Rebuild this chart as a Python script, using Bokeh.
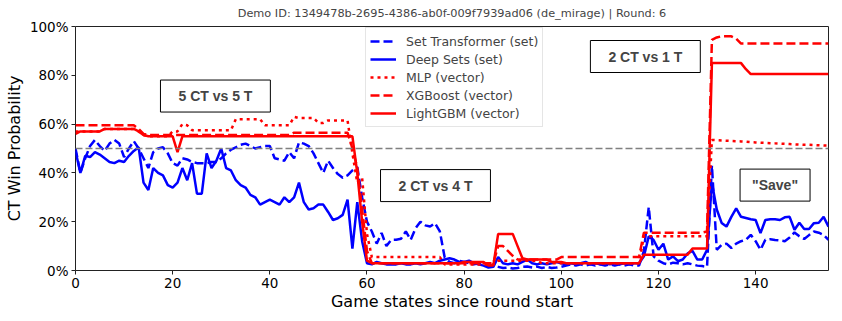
from bokeh.plotting import figure
from bokeh.models import (ColumnDataSource, Range1d, Span, Label, Legend, LegendItem,
                          PrintfTickFormatter, FixedTicker)
from bokeh.embed import file_html
from bokeh.resources import INLINE
from bokeh.core.properties import value

title_text = "Demo ID: 1349478b-2695-4386-ab0f-009f7939ad06 (de_mirage) | Round: 6"
x_label = "Game states since round start"
y_label = "CT Win Probability"
x_ticks = [0, 20, 40, 60, 80, 100, 120, 140]
y_ticks = [0, 20, 40, 60, 80, 100]

series_names = ["Set Transformer (set)", "Deep Sets (set)", "MLP (vector)",
                "XGBoost (vector)", "LightGBM (vector)"]

# Set Transformer (set) - win probability in %, states 0..155
set_transformer = [
    50, 40, 46, 51, 53.5, 51, 49, 52, 53.5, 52,
    46.5, 50, 53, 50, 46, 42, 48.5, 50, 50.5, 48,
    44, 43, 46, 45.5, 44.5, 44, 44, 44, 44.5, 44.5,
    46, 48, 49.5, 50.5, 51.5, 52, 51, 50, 50.5, 51,
    51, 46, 45.5, 45, 48.5, 46, 52.5, 52, 51, 48,
    44, 40, 45, 42, 39.5, 38, 39, 41, 42.4, 30,
    20, 16, 11, 15.4, 10, 12.6, 12.6, 13, 16, 12.6,
    17.3, 20, 18.5, 18, 19.4, 16, 5.3, 3.5, 3, 4,
    3.5, 3, 2.5, 3, 2.5, 2, 2, 1.5, 1, 1.2,
    0.8, 1, 1.5, 1.6, 1.2, 1.6, 1, 1.5, 1, 1.2,
    1.5, 2, 2.5, 2, 2.5, 2, 2.5, 2, 2.5, 2,
    2.5, 2, 2.5, 2, 2.5, 2, 2, 8, 26, 5.8,
    4, 3, 2.5, 3.2, 3, 2.5, 3, 2.5, 2, 1.8,
    1.5, 43, 8.5, 10.5, 11, 9.2, 11, 12, 12.6, 14.6,
    12, 8.5, 12.6, 12.8, 12.5, 12.3, 12, 13.5, 15.6, 14,
    12.9, 14.5, 16, 15.5, 14.6, 12.6,
]

# Deep Sets (set)
deep_sets = [
    49, 40, 47, 46.5, 48.5, 47.5, 46, 44.5, 44, 45,
    44.5, 47, 49, 50.5, 36, 33, 42, 40, 39, 35,
    34, 36, 42, 37, 44, 31.5, 31.5, 48, 42, 45,
    50, 42, 41, 37, 35, 34, 31, 30, 27, 28,
    29, 28, 27, 30, 28, 30, 36, 28, 25, 25.5,
    27, 27, 24, 20.7, 21.4, 22.8, 29, 9, 28, 12,
    3, 2.5, 3.5, 3, 2.5, 2.5, 2.5, 3, 2.5, 2.5,
    3, 2.5, 3, 3.5, 3, 4, 4.5, 5, 4.5, 3.5,
    3.5, 4, 3, 2.5, 2, 1.2, 1.5, 5.5, 3, 2.5,
    3, 2.5, 3.5, 4.5, 3, 2.5, 3, 2.5, 3, 3.5,
    3, 2.5, 3, 2.5, 3, 3.5, 2.5, 3, 2.5, 3,
    2.5, 3, 2.5, 3, 2.5, 3, 3, 5.8, 14, 12.5,
    8.5, 11, 4.5, 5.8, 3.8, 4.5, 7, 8, 4.5, 4.5,
    8.5, 36, 25, 19.5, 18, 22, 25.5, 22, 21.5, 21,
    20.7, 15.3, 20.7, 21, 21, 20.7, 21.8, 22, 16.7, 19.6,
    17, 17, 19.4, 19.6, 22, 18,
]

# MLP (vector)
mlp = [
    57, 57, 57, 57, 57, 57, 58, 58, 58, 58,
    58, 58, 58, 57, 55.5, 55, 55, 55, 55, 55,
    57, 57, 60, 59.5, 57.5, 57.5, 57.5, 57.5, 57.5, 57.5,
    57.5, 57.5, 57.5, 62, 62, 62, 62, 62, 62, 59.5,
    59.5, 59.5, 59.5, 59.5, 59.5, 63, 62.5, 62.5, 62.5, 62.5,
    60.5, 60.5, 61.5, 61.5, 61.5, 61.5, 61.5, 48, 36, 38,
    15, 5.5, 5.5, 5.5, 5.5, 5.5, 5.5, 5.5, 5.5, 5.5,
    5.5, 5.5, 5.5, 5.5, 5.5, 5.5, 2.5, 2.5, 2.5, 2.5,
    2.5, 2.5, 2.5, 2.5, 2.5, 2.5, 2.5, 4, 4, 4,
    4, 4, 4, 4, 4, 4, 3, 3, 3, 3,
    3, 3, 3, 3, 3, 3, 3, 3, 3, 3,
    3, 3, 3, 3, 3, 3, 3, 14, 14, 14,
    14, 14, 14, 14, 14, 14, 14, 14, 14, 14,
    14, 53.5, 53.4, 53.3, 53.2, 53.1, 53, 52.9, 52.8, 52.6,
    52.5, 52.4, 52.3, 52.2, 52.1, 52, 51.9, 51.8, 51.7, 51.6,
    51.5, 51.5, 51.4, 51.3, 51.2, 51.2,
]

# XGBoost (vector)
xgboost = [
    59.5, 59.5, 59.5, 59.5, 59.5, 59.5, 59.5, 59.5, 59.5, 59.5,
    59.5, 59.5, 59.5, 58, 56, 55.5, 55.5, 55.5, 55.5, 55.5,
    55.5, 55.5, 55.5, 55.5, 55.5, 55.5, 55.5, 55.5, 55.5, 55.5,
    55.5, 55.5, 55.5, 55.5, 55.5, 55.5, 55.5, 55.5, 55.5, 55.5,
    55.5, 55.5, 55.5, 55.5, 55.5, 56.5, 56.5, 56.5, 56.5, 56.5,
    56.5, 56.5, 56.5, 56.5, 56.5, 56.5, 56.5, 50, 42, 25,
    8, 3, 3, 3, 3, 3, 3, 3, 3, 3,
    3, 3, 3, 3, 3, 3, 3, 3, 3, 3,
    3, 3, 3, 3, 3, 3, 3, 10, 10, 8,
    6, 4.5, 4.5, 4.5, 4.5, 4.5, 4.5, 4.5, 4.5, 4.5,
    5.5, 5.5, 5.5, 5.5, 5.5, 5.5, 5.5, 5.5, 5.5, 5.5,
    5.5, 5.5, 5.5, 5.5, 5.5, 5.5, 5.5, 15.5, 15.5, 15.5,
    15.5, 15.5, 15.5, 15.5, 15.5, 15.5, 15.5, 15.5, 15.5, 15.5,
    16, 94.5, 95.5, 96, 96, 96, 95, 93, 93, 93,
    93, 93, 93, 93, 93, 93, 93, 93, 93, 93,
    93, 93, 93, 93, 93, 93,
]

# LightGBM (vector)
lightgbm = [
    56, 57, 57, 57, 57, 57, 58, 58, 58, 58,
    58, 58, 58, 57, 55.5, 55, 55, 55, 55, 55,
    55, 48.5, 55, 55, 55, 55, 55, 55, 55, 55,
    55, 55, 55, 55, 55, 55, 55, 55, 55, 55,
    55, 55, 55, 55, 55, 55, 55, 55, 55, 55,
    55, 55, 55, 55, 55, 55, 55, 55, 40, 20,
    4, 3, 3, 3, 3, 3, 3, 3, 3, 3,
    3, 3, 3, 3, 3, 3, 3, 3, 3, 3,
    3.5, 3.5, 3.5, 3.5, 3.5, 2, 2, 15, 15, 15,
    15, 10, 5, 4.5, 4.5, 4.5, 4.5, 4.5, 3.5, 3.5,
    3.5, 3, 3, 3, 3, 3, 3, 3, 3, 3,
    3, 3, 3, 3, 3, 3, 3, 6.5, 6.5, 6.5,
    6.5, 6.5, 6.5, 6.5, 6.5, 6.5, 6.5, 9, 9, 9,
    9, 85, 85, 85, 85, 85, 85, 85, 82.5, 80.5,
    80.5, 80.5, 80.5, 80.5, 80.5, 80.5, 80.5, 80.5, 80.5, 80.5,
    80.5, 80.5, 80.5, 80.5, 80.5, 80.5,
]

states = list(range(len(lightgbm)))

annotations = [("5 CT vs 5 T", 28.8, 71.5), ("2 CT vs 4 T", 74.1, 34.8),
               ("2 CT vs 1 T", 117.3, 87.7), ('"Save"', 144.0, 35.0)]

src = ColumnDataSource(dict(x=states, st=set_transformer, ds=deep_sets,
                            mlp=mlp, xgb=xgboost, lgbm=lightgbm))

p = figure(width=838, height=313, output_backend="svg", toolbar_location=None,
           x_range=Range1d(0, 155), y_range=Range1d(0, 100),
           min_border_left=75, min_border_right=10, min_border_top=25,
           min_border_bottom=42)
p.title.text = title_text
p.title.align = "center"
p.title.vertical_align = "middle"
p.title.text_font = "DejaVu Sans"
p.title.text_font_size = "11.3px"
p.title.text_font_style = "normal"
p.title.standoff = 11

p.xgrid.visible = False
p.ygrid.visible = False
p.outline_line_color = "#222222"
p.outline_line_width = 1
p.background_fill_color = "white"

for ax in (p.xaxis[0], p.yaxis[0]):
    ax.axis_line_color = None
    ax.major_tick_in = 0
    ax.major_tick_out = 4
    ax.minor_tick_line_color = None
    ax.major_tick_line_color = "#222222"
    ax.major_label_text_font = "DejaVu Sans"
    ax.major_label_text_font_size = "13.5px"
    ax.major_label_text_color = "black"
    ax.axis_label_text_font = "DejaVu Sans"
    ax.axis_label_text_font_size = "16px"
    ax.axis_label_text_font_style = "normal"
    ax.axis_label_text_color = "black"

p.xaxis[0].ticker = FixedTicker(ticks=x_ticks)
p.yaxis[0].ticker = FixedTicker(ticks=y_ticks)
p.yaxis[0].formatter = PrintfTickFormatter(format="%d%%")
p.xaxis[0].axis_label = x_label
p.yaxis[0].axis_label = y_label
p.xaxis[0].major_label_standoff = 3
p.yaxis[0].major_label_standoff = 3
p.xaxis[0].axis_label_standoff = 1
p.yaxis[0].axis_label_standoff = 3

p.add_layout(Span(location=50, dimension="width", line_color="gray",
                  line_dash="7 3", line_width=1.5))

BLUE = "#0000ff"
RED = "#ff0000"
r_st = p.line("x", "st", source=src, color=BLUE, line_width=2.5, line_dash="9 4")
r_ds = p.line("x", "ds", source=src, color=BLUE, line_width=2.5)
r_mlp = p.line("x", "mlp", source=src, color=RED, line_width=2.5, line_dash="3 4")
r_xgb = p.line("x", "xgb", source=src, color=RED, line_width=2.5, line_dash="9 4")
r_lgbm = p.line("x", "lgbm", source=src, color=RED, line_width=2.5)

legend = Legend(items=[LegendItem(label=n, renderers=[r]) for n, r in
                       zip(series_names, [r_st, r_ds, r_mlp, r_xgb, r_lgbm])],
                location=(290, 143))
legend.label_text_font = "DejaVu Sans"
legend.label_text_font_size = "12.5px"
legend.glyph_width = 26
legend.glyph_height = 18
legend.label_height = 18
legend.label_standoff = 10
legend.spacing = 0
legend.padding = 4
legend.margin = 0
legend.border_line_color = "#cccccc"
legend.background_fill_alpha = 0.85
p.add_layout(legend)

for txt, x, y in annotations:
    pad = (12, 8) if txt.startswith('"') else (18, 8)
    p.add_layout(Label(x=x, y=y, text=txt, text_align="center",
                       text_baseline="middle", text_font="Liberation Sans",
                       text_font_size="14px", text_font_style="bold",
                       border_line_color="black", border_line_width=1,
                       background_fill_color="white", padding=pad))

open("out.html", "w").write(file_html(p, INLINE))
